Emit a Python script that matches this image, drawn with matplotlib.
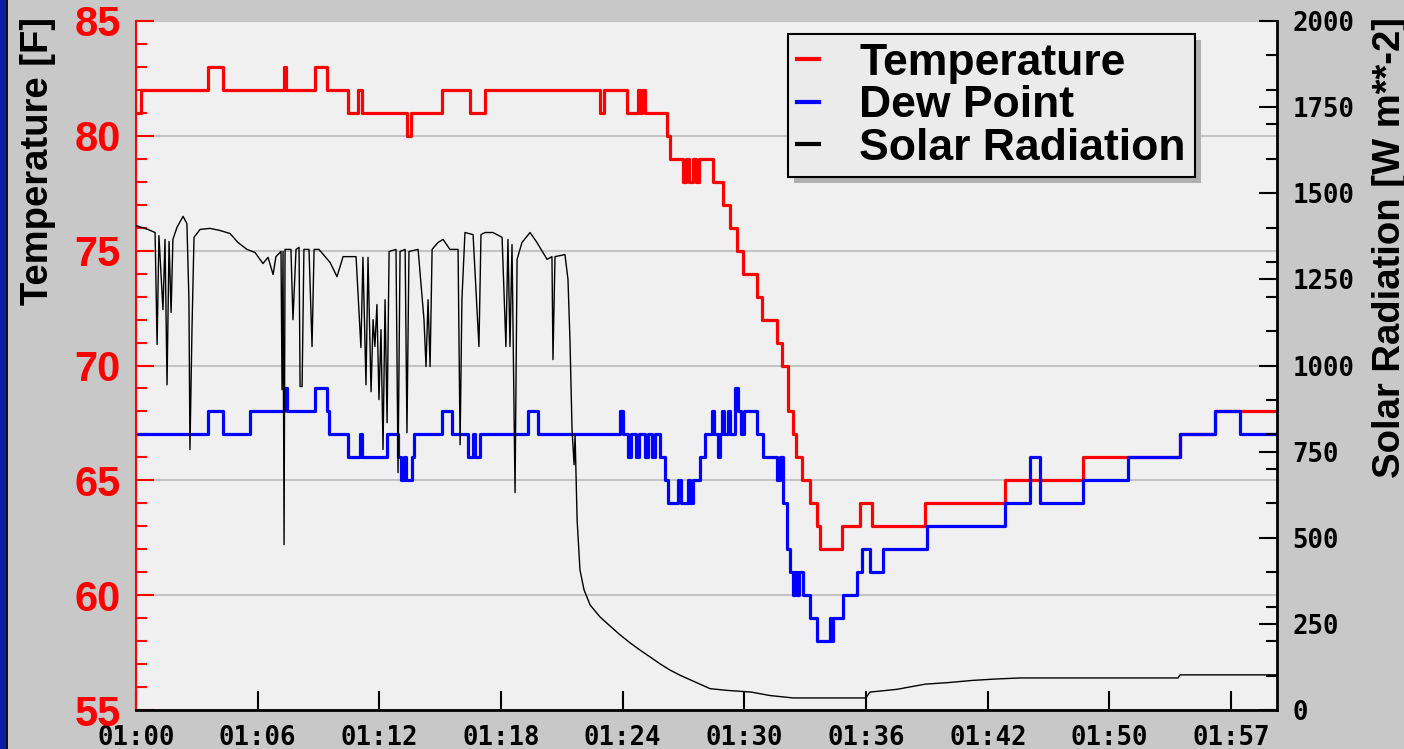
import matplotlib
matplotlib.use('Agg')
import matplotlib.pyplot as plt
from matplotlib.lines import Line2D
from matplotlib.patches import Rectangle
from matplotlib.ticker import MultipleLocator
from matplotlib.transforms import IdentityTransform

# time axis in minutes after 01:00 (as drawn by the station plot)
tick_pos = [0, 6, 12, 18, 24, 30, 36, 42, 48, 54]
tick_labels = ['01:00', '01:06', '01:12', '01:18', '01:24',
               '01:30', '01:36', '01:42', '01:50', '01:57']
t_end = 56.26

# temperature [F], step series
temp_t = [0.00, 0.25, 3.55, 4.29, 7.30, 7.40, 8.83, 9.42, 10.45, 10.95, 11.14,
          13.36, 13.56, 15.09, 16.47, 17.21, 22.88, 23.08, 24.21, 24.75, 24.85,
          24.95, 25.10, 26.18, 26.33, 26.97, 27.12, 27.27, 27.47, 27.61, 27.76,
          28.45, 28.94, 29.29, 29.64, 29.93, 30.62, 30.87, 31.61, 31.85, 32.15,
          32.40, 32.54, 32.84, 33.23, 33.58, 33.73, 34.81, 35.70, 36.29, 38.91,
          42.85, 46.70, 51.48, 53.21, 56.26]
temp_f = [81, 82, 83, 82, 83, 82, 83, 82, 81, 82, 81,
          80, 81, 82, 81, 82, 81, 82, 81, 82, 81,
          82, 81, 80, 79, 78, 79, 78, 79, 78, 79,
          78, 77, 76, 75, 74, 73, 72, 71, 70, 68,
          67, 66, 65, 64, 63, 62, 63, 64, 63, 64,
          65, 66, 67, 68, 68]

# dew point [F], step series
dew_t = [0.00, 3.55, 4.29, 5.62, 7.30, 7.45, 8.83, 9.42, 9.52, 10.45, 11.05,
         11.14, 12.38, 12.92, 13.07, 13.21, 13.31, 13.61, 13.71, 15.09, 15.58,
         16.37, 16.62, 16.72, 16.96, 19.33, 19.82, 23.87, 24.01, 24.26, 24.41,
         24.65, 24.80, 25.10, 25.25, 25.44, 25.59, 25.84, 26.08, 26.23, 26.73,
         26.87, 27.22, 27.32, 27.47, 27.81, 28.06, 28.40, 28.50, 28.70, 28.80,
         28.90, 29.00, 29.19, 29.29, 29.54, 29.68, 29.83, 29.98, 30.62, 30.92,
         31.61, 31.76, 31.90, 32.10, 32.25, 32.40, 32.49, 32.59, 32.69, 32.89,
         33.23, 33.58, 34.22, 34.27, 34.37, 34.86, 35.55, 35.80, 36.19, 36.83,
         39.00, 42.85, 44.08, 44.58, 46.70, 48.92, 51.48, 53.21, 54.44, 56.26]
dew_f = [67, 68, 67, 68, 69, 68, 69, 68, 67, 66, 67,
         66, 67, 66, 65, 66, 65, 66, 67, 68, 67,
         66, 67, 66, 67, 68, 67, 68, 67, 66, 67,
         66, 67, 66, 67, 66, 67, 66, 65, 64, 65,
         64, 65, 64, 65, 66, 67, 68, 67, 66, 67,
         68, 67, 68, 67, 69, 68, 67, 68, 67, 66,
         65, 66, 64, 62, 61, 60, 61, 60, 61, 60,
         59, 58, 59, 58, 59, 60, 61, 62, 61, 62,
         63, 64, 66, 64, 65, 66, 67, 68, 67, 67]

# solar radiation [W m**-2]
solar_t = [0.00, 0.59, 0.94, 1.04, 1.13, 1.33, 1.43, 1.53, 1.63, 1.73, 1.82,
           2.02, 2.32, 2.51, 2.61, 2.66, 2.76, 2.86, 3.16, 3.65, 4.14, 4.64,
           5.03, 5.47, 5.87, 6.26, 6.51, 6.76, 6.90, 7.15, 7.20, 7.25, 7.30,
           7.35, 7.64, 7.74, 7.89, 8.04, 8.09, 8.19, 8.28, 8.53, 8.68, 8.78,
           9.02, 9.57, 9.91, 10.21, 10.85, 11.09, 11.19, 11.34, 11.44, 11.59,
           11.69, 11.78, 11.88, 11.98, 12.08, 12.18, 12.28, 12.38, 12.48, 12.82,
           12.92, 13.02, 13.27, 13.36, 13.46, 13.91, 14.20, 14.30, 14.40, 14.50,
           14.60, 14.89, 15.14, 15.48, 15.88, 15.98, 16.07, 16.22, 16.62, 16.91,
           17.01, 17.21, 17.60, 18.05, 18.24, 18.34, 18.44, 18.54, 18.69, 18.79,
           19.03, 19.43, 19.77, 20.27, 20.51, 20.56, 20.66, 21.15, 21.30, 21.40,
           21.50, 21.60, 21.65, 21.75, 21.89, 22.09, 22.39, 22.88, 23.37, 23.87,
           24.36, 24.85, 25.35, 25.84, 26.33, 26.82, 27.32, 27.81, 28.30, 29.14,
           30.33, 31.26, 32.40, 35.99, 36.19, 37.52, 38.91, 40.14, 41.27, 42.41,
           43.59, 51.38, 51.48, 56.26]
solar_w = [1406, 1395, 1386, 1061, 1377, 1162, 1366, 944, 1360, 1154, 1366,
           1401, 1433, 1412, 1191, 756, 1104, 1372, 1395, 1398, 1392, 1383,
           1357, 1337, 1328, 1296, 1314, 1264, 1316, 1331, 930, 1331, 480,
           1337, 1337, 1133, 1337, 1343, 939, 939, 1337, 1337, 1055, 1337,
           1337, 1299, 1258, 1316, 1316, 1052, 1314, 944, 1314, 924,
           1133, 1055, 1177, 901, 1104, 756, 1191, 834, 1331, 1337,
           689, 1331, 1337, 805, 1331, 1337, 1133, 997, 1191, 997,
           1337, 1357, 1366, 1337, 1337, 770, 1191, 1386, 1380, 1055,
           1380, 1386, 1386, 1372, 1055, 1366, 1055, 1351, 631, 1308,
           1357, 1386, 1357, 1308, 1316, 1017, 1316, 1322, 1250, 1069,
           814, 712, 799, 552, 407, 349, 305, 270, 244, 218,
           195, 174, 154, 134, 116, 101, 88, 75, 62, 57,
           52, 42, 35, 35, 52, 60, 75, 80, 86, 90,
           93, 93, 102, 102]

temp_ticks = [55, 60, 65, 70, 75, 80, 85]
solar_ticks = [0, 250, 500, 750, 1000, 1250, 1500, 1750, 2000]

W, H = 1404, 749
fig = plt.figure(figsize=(W / 100, H / 100), dpi=100, facecolor='#c8c8c8')

# blue page border on the left
fig.add_artist(Rectangle((0, 0), 6 / W, 1, transform=fig.transFigure,
                         facecolor='#0b1ca6', edgecolor='none', zorder=0))
fig.add_artist(Rectangle((6 / W, 0), 1.5 / W, 1, transform=fig.transFigure,
                         facecolor='#101018', edgecolor='none', zorder=0))

ax = fig.add_axes([136 / W, 39 / H, 1141 / W, 689 / H])
ax.set_facecolor('#f0f0f0')
ax2 = ax.twinx()

ax.step(temp_t, temp_f, where='post', color='#ff0000', lw=2.3)
ax.step(dew_t, dew_f, where='post', color='#0000ff', lw=2.3)
ax2.plot(solar_t, solar_w, color='black', lw=1.0)

ax.set_xlim(0, t_end)
ax.set_ylim(55, 85)
ax2.set_ylim(0, 2000)

ax.grid(axis='y', which='major', color='#c4c4c4', lw=1.5)

ax.set_xticks(tick_pos, tick_labels, fontfamily='DejaVu Sans Mono',
              fontweight='bold', fontsize=18.5)
ax.set_yticks(temp_ticks, [str(v) for v in temp_ticks],
              fontfamily='Liberation Sans', fontweight='bold', fontsize=30)
ax.yaxis.set_minor_locator(MultipleLocator(1))
ax2.set_yticks(solar_ticks, [str(v) for v in solar_ticks],
               fontfamily='DejaVu Sans Mono', fontweight='bold', fontsize=18.5)
ax2.yaxis.set_minor_locator(MultipleLocator(100))

ax.tick_params(axis='x', direction='in', length=14, width=1.5, pad=11,
               color='black')
ax.tick_params(axis='y', which='major', direction='in', length=13, width=1.5,
               pad=11, color='red', labelcolor='red')
ax.tick_params(axis='y', which='minor', direction='in', length=8, width=1.5,
               color='red')
ax2.tick_params(axis='y', which='major', direction='in', length=13, width=1.5,
                pad=11, color='black')
ax2.tick_params(axis='y', which='minor', direction='in', length=8, width=1.5,
                color='black')

for s in ['top', 'right']:
    ax.spines[s].set_visible(False)
ax.spines['left'].set_color('red')
ax.spines['left'].set_linewidth(1.5)
ax.spines['bottom'].set_linewidth(2)
for s in ['top', 'left', 'bottom']:
    ax2.spines[s].set_visible(False)
ax2.spines['right'].set_linewidth(2)

fig.text(20 / W, 1 - 17 / H, 'Temperature [F]', rotation=90, ha='left',
         va='top', fontsize=27.5, fontweight='bold', family='Liberation Sans')
fig.text(1372 / W, 1 - 17 / H, 'Solar Radiation [W m**-2]', rotation=90,
         ha='left', va='top', fontsize=27.5, fontweight='bold',
         family='Liberation Sans')

handles = [Line2D([], [], color='#ff0000', lw=3),
           Line2D([], [], color='#0000ff', lw=3),
           Line2D([], [], color='black', lw=3)]
leg = ax2.legend(handles, ['Temperature', 'Dew Point', 'Solar Radiation'],
                 loc='upper left', bbox_to_anchor=(652 / 1141, 676 / 689),
                 borderaxespad=0, borderpad=0.2, labelspacing=0.03,
                 handlelength=0.5, handletextpad=0.9, fancybox=False,
                 edgecolor='black', facecolor='#ebebeb', framealpha=1,
                 prop=dict(family='Liberation Sans', weight='bold', size=32))
leg.get_frame().set_linewidth(1.5)
leg.set_zorder(5)

# drop shadow behind the legend box
fig.canvas.draw()
bb = leg.get_window_extent()
ax2.add_artist(Rectangle((bb.x0 + 6, bb.y0 - 6), bb.width, bb.height,
                         transform=IdentityTransform(), facecolor='#b0b0b0',
                         edgecolor='none', zorder=4.9))

fig.savefig('out.png', dpi=100, facecolor=fig.get_facecolor())
